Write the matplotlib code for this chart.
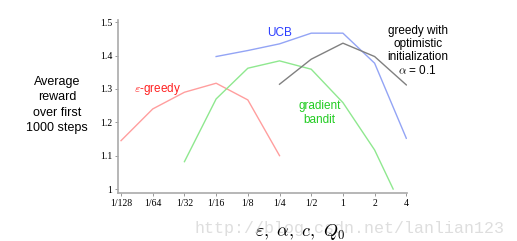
import matplotlib
matplotlib.use("Agg")
from matplotlib import pyplot as plt

# parameter values (eps, alpha, c, Q0) on a log2 axis
tick_vals = [1/128, 1/64, 1/32, 1/16, 1/8, 1/4, 1/2, 1, 2, 4]
tick_labels = ['1/128', '1/64', '1/32', '1/16', '1/8', '1/4', '1/2', '1', '2', '4']

eps_x = [1/128, 1/64, 1/32, 1/16, 1/8, 1/4]
eps_y = [1.145, 1.240, 1.290, 1.317, 1.267, 1.100]

grad_x = [1/32, 1/16, 1/8, 1/4, 1/2, 1, 2, 3]
grad_y = [1.082, 1.270, 1.362, 1.384, 1.359, 1.259, 1.117, 1.000]

ucb_x = [1/16, 1/8, 1/4, 1/2, 1, 2, 4]
ucb_y = [1.397, 1.415, 1.435, 1.467, 1.467, 1.377, 1.152]

opt_x = [1/4, 1/2, 1, 2, 4]
opt_y = [1.314, 1.389, 1.437, 1.397, 1.312]

plt.rcParams['mathtext.fontset'] = 'cm'

fig = plt.figure(figsize=(5.17, 2.41), dpi=100)
ax = fig.add_axes([0.228, 0.199, 0.559, 0.716])

ax.plot(eps_x, eps_y, color='#ff9e9e', lw=1)
ax.plot(grad_x, grad_y, color='#8fe88f', lw=1)
ax.plot(ucb_x, ucb_y, color='#93a4f5', lw=1)
ax.plot(opt_x, opt_y, color='#808080', lw=1)

ax.set_xscale('log', base=2)
ax.set_xlim(2**-7.1, 4.05)
ax.set_ylim(0.988, 1.505)
ax.set_xticks(tick_vals)
ax.set_xticklabels(tick_labels)
ax.minorticks_off()
ax.set_yticks([1, 1.1, 1.2, 1.3, 1.4, 1.5])
ax.set_yticklabels(['1', '1.1', '1.2', '1.3', '1.4', '1.5'])

for lab in ax.get_xticklabels() + ax.get_yticklabels():
    lab.set_family('Liberation Serif')
    lab.set_fontsize(7)
ax.tick_params(length=2, width=0.6, color='#888888', pad=2)
for s in ['top', 'right']:
    ax.spines[s].set_visible(False)
for s in ['left', 'bottom']:
    ax.spines[s].set_color('#aaaaaa')
    ax.spines[s].set_linewidth(1.2)

sans = 'Liberation Sans'
ax.text(2**-2.0, 1.467, 'UCB', color='#2a3cff', fontsize=8.5, family=sans, ha='center', va='center')
ax.text(2**-5.85, 1.30, r'$\varepsilon$-greedy', color='#ff2020', fontsize=8.5, family=sans, ha='center', va='center')
ax.text(2**-0.74, 1.228, 'gradient\nbandit', color='#22cc22', fontsize=8.5, family=sans,
        ha='center', va='center', linespacing=1.15)
ax.text(2**2.36, 1.413, 'greedy with\noptimistic\ninitialization\n' + r'$\alpha$ = 0.1', color='black',
        fontsize=8.5, family=sans, ha='center', va='center', linespacing=1.1, clip_on=False)

fig.text(57 / 517, 1 - 105 / 241, 'Average\nreward\nover first\n1000 steps', fontsize=9,
         family=sans, ha='center', va='center', linespacing=1.35)

fig.text(350 / 517, 1 - 229 / 241, 'http://blog.csdn.net/lanlian123', fontsize=12,
         family='Liberation Mono', color='#dedede', ha='center', va='center')
fig.text(300 / 517, 1 - 232 / 241, r'$\varepsilon,\ \alpha,\ c,\ Q_0$', fontsize=13,
         ha='center', va='center')

fig.savefig('out.png', dpi=100)
